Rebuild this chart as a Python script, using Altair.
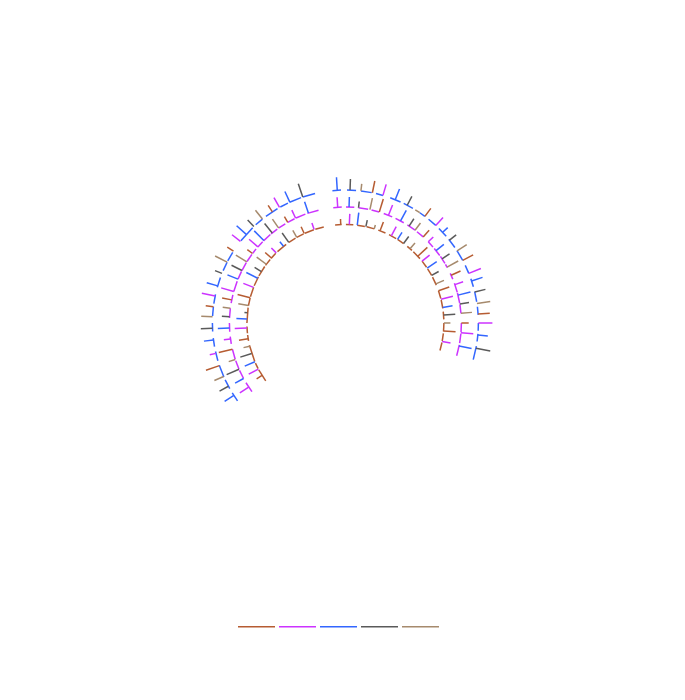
import numpy as np
import pandas as pd
import altair as alt

SERIES = ["A", "B", "C", "D", "E"]
COLORS = ["#b65c32", "#cc33ff", "#3366ff", "#5a5a5a", "#a68a6d"]
CODE = dict(zip("rpbgt", SERIES))

R1, R2, R3 = 98.5, 116, 133

ring1_stem_angle = [-2.7, 2.3, 6.9, 12, 17, 20.6, 27.8, 32, 36.2, 41, 47.3, 51.1, 56.1, 61.1, 66.6, 70.9, 76, 80.9, 85.4, 90, 94.6, 100.8,
                    -18.5, -24.7, -29.6, -35.1, -38.9, -44.6, -48.7, -53.4, -58.5, -63, -68.8, -75.2, -79.8, -84, -87.7, -92.9, -99.2, -103.6, -108, -113.2, -117.9, -122.2]
ring1_stem_len = [5.7, 10.7, 12.7, 6.7, 4, 9.5, 10.5, 8.3, 8.7, 7.6, 13, 9.7, 11.5, 8, 8.9, 11.4, 12.3, 10, 11.7, 6.5, 12, 8.5,
                  7, 7.5, 8, 11.5, 5.9, 6.9, 8.3, 12, 8, 12.7, 11, 13, 10.3, 3, 10.6, 12.3, 9.3, 6.3, 12, 11, 10.9, 6.4]
ring1_stem_color = "rpbgtrpbgtrpbgtrpbgtrp" + "prtgbprtgbprtgbprtgbpr"

ring2_stem_angle = [-3.8, 1.8, 6.5, 12.2, 17, 21.8, 28.4, 33.3, 36.9, 42.1, 45.6, 51.4, 56.4, 61.2, 65.7, 70.7, 76.1, 80.6, 85.2, 90, 94.8, 101.4,
                    -18.6, -25.4, -29.8, -35.1, -39.1, -44.7, -49, -53.2, -58.2, -63.1, -67.8, -74.2, -78.5, -82.7, -86.9, -92.5, -97.9, -103.1, -108.3, -113.5, -118.6, -123.5]
ring2_stem_len = [10, 10, 6.3, 11.7, 13.6, 11, 12, 8.7, 9, 8.9, 7, 10, 9, 12.7, 10.3, 8.7, 12.8, 9.3, 11, 7.3, 12.3, 12.7,
                  12, 8.9, 6.7, 10.9, 12.1, 13.6, 11.6, 6.5, 12.9, 11.7, 11.4, 13.1, 9.8, 7.7, 7.7, 11.7, 6.7, 14, 6.9, 13.5, 9.6, 10.6]
ring2_stem_color = "pbgtrpbgtrpbgtrpbgtrpb" + "bprtgbprtgbprtgbprtgbp"

ring3_stem_angle = [-3.5, 2, 6.7, 11.7, 16.4, 22, 27.7, 36.7, 42.8, 47, 51.5, 57.1, 61.9, 68.1, 71.6, 76.5, 81.6, 86.1, 90, 95.2, 100.9,
                    -18.7, -24.7, -29.7, -33.3, -38.6, -43.5, -48.2, -52.1, -57.3, -62.8, -68.1, -73.8, -78.3, -83, -87.3, -92.3, -97.3, -103.2, -108.7, -113.7, -118.4, -123]
ring3_stem_len = [13, 11, 7, 12, 11.5, 11.5, 10, 10, 10.7, 6.9, 8.5, 11.5, 11.8, 13, 11.5, 11, 13.4, 11.7, 14, 10, 14.5,
                  13.9, 11.8, 11.2, 7.7, 11.2, 9, 12.9, 10.7, 7.4, 13.5, 7.5, 11.4, 13.6, 7.7, 11.3, 11.7, 9.6, 6.3, 14.2, 10.1, 10.1, 11]
ring3_stem_color = "bgtrpbgrpbgtrpbgtrpbg" + "gbprtgbprtgbprtgbprtgb"

ring1_arc_start = [-6, 0.3, 6.9, 12.5, 19.5, 26.3, 32, 38.9, 43.6, 51.1, 56.6, 62.2, 70.9, 76.5, 83.4, 90, 96, 101.4,
                   -12.7, -18.7, -25.1, -30.4, -37, -45, -49.8, -55, -62, -68.7, -75.2, -81, -92, -97, -103, -114, -118.4]
ring1_arc_end = [-2.2, 4.6, 11.4, 17.1, 24, 31, 36.2, 42.5, 49.2, 55.5, 61.1, 67.4, 75.6, 81.5, 87.9, 95, 100.6, 106.2,
                 -17.8, -24.3, -29.6, -35, -43.6, -49, -54.2, -61.4, -67.8, -74.6, -79.9, -90, -96, -100.5, -113, -117.6, -126]
ring2_arc_start = [-6, 0.3, 6.5, 13, 19.3, 25.6, 32.3, 38.1, 45.6, 50, 55, 59.6, 64.7, 70, 75, 80.8, 90, 95.2, 100.9,
                   -13.4, -20.2, -26, -31.2, -36, -40.3, -45.5, -50.4, -53.7, -58.7, -63.6, -68.9, -76, -82.7, -90, -96.7, -103.1, -109, -114.1, -121]
ring2_arc_end = [-1.8, 4.4, 11.3, 16.9, 23.8, 30.2, 36.9, 42.1, 49, 54.4, 59.1, 61.5, 67.8, 74.7, 80.2, 85.2, 94.6, 100, 106.4,
                 -19.1, -25.2, -29.8, -35, -39.8, -44.9, -49, -53, -58, -63.1, -67.8, -74.2, -80.1, -87.5, -94.3, -100.4, -108.2, -113.5, -118.6, -126.3]
ring3_arc_start = [-5.6, 0.7, 6.7, 13.3, 19.7, 26, 34, 38.7, 44.7, 51, 57, 64.3, 70.6, 76.4, 83, 90, 94.7, 100,
                   -13.2, -19.5, -25.6, -30.7, -38.6, -44.2, -57.9, -62.8, -70, -77.6, -83, -90, -96.5, -102.4, -108.5, -115.3, -121.7]
ring3_arc_end = [-1.9, 4.6, 11.4, 16.4, 24.5, 30.5, 36.7, 42.8, 49.3, 55.4, 61.9, 68.1, 74.2, 80.8, 86.5, 93.3, 98, 106,
                 -18.7, -24.8, -29.3, -36.7, -42.4, -51.8, -62.2, -66.8, -74.4, -81.6, -87, -93.7, -100.2, -106.5, -114, -119.6, -125.8]
extra_arc_start = [31.7]
extra_arc_end = [34]
extra_arc_color = ["E"]


def stems(radius, angle, length, colors):
    a = np.radians(angle)
    ln = np.array(length)
    return pd.DataFrame({
        "x": radius * np.sin(a), "y": radius * np.cos(a),
        "x2": (radius + ln) * np.sin(a), "y2": (radius + ln) * np.cos(a),
        "series": [CODE[c] for c in colors],
    })


def arcs(radius, start, end, series):
    a, b = np.radians(start), np.radians(end)
    return pd.DataFrame({
        "x": radius * np.sin(a), "y": radius * np.cos(a),
        "x2": radius * np.sin(b), "y2": radius * np.cos(b),
        "series": series,
    })


frames = [
    arcs(R1, ring1_arc_start, ring1_arc_end, ["A"] * len(ring1_arc_start)),
    arcs(R2, ring2_arc_start, ring2_arc_end, ["B"] * len(ring2_arc_start)),
    arcs(R3, ring3_arc_start, ring3_arc_end, ["C"] * len(ring3_arc_start)),
    arcs(R3, extra_arc_start, extra_arc_end, extra_arc_color),
    stems(R1, ring1_stem_angle, ring1_stem_len, ring1_stem_color),
    stems(R2, ring2_stem_angle, ring2_stem_len, ring2_stem_color),
    stems(R3, ring3_stem_angle, ring3_stem_len, ring3_stem_color),
]
data = pd.concat(frames, ignore_index=True)

chart = alt.Chart(data).mark_rule(strokeWidth=1.5).encode(
    x=alt.X("x:Q", axis=None, scale=alt.Scale(domain=[-337.4, 331.6], nice=False, zero=False)),
    y=alt.Y("y:Q", axis=None, scale=alt.Scale(domain=[-355, 315], nice=False, zero=False)),
    x2="x2:Q",
    y2="y2:Q",
    color=alt.Color(
        "series:N",
        scale=alt.Scale(domain=SERIES, range=COLORS),
        legend=alt.Legend(
            orient="none", legendX=229, legendY=599, direction="horizontal", columns=5,
            title=None, symbolType="stroke", symbolSize=1369, symbolStrokeWidth=1.5,
            labelExpr="''", labelOffset=0, columnPadding=-2, padding=0,
        ),
    ),
).properties(width=669, height=670, padding=0, autosize=alt.AutoSizeParams(type="none"),
             view=alt.ViewConfig(stroke=None))

chart.save("out.html", embed_options={"renderer": "svg", "actions": False})
